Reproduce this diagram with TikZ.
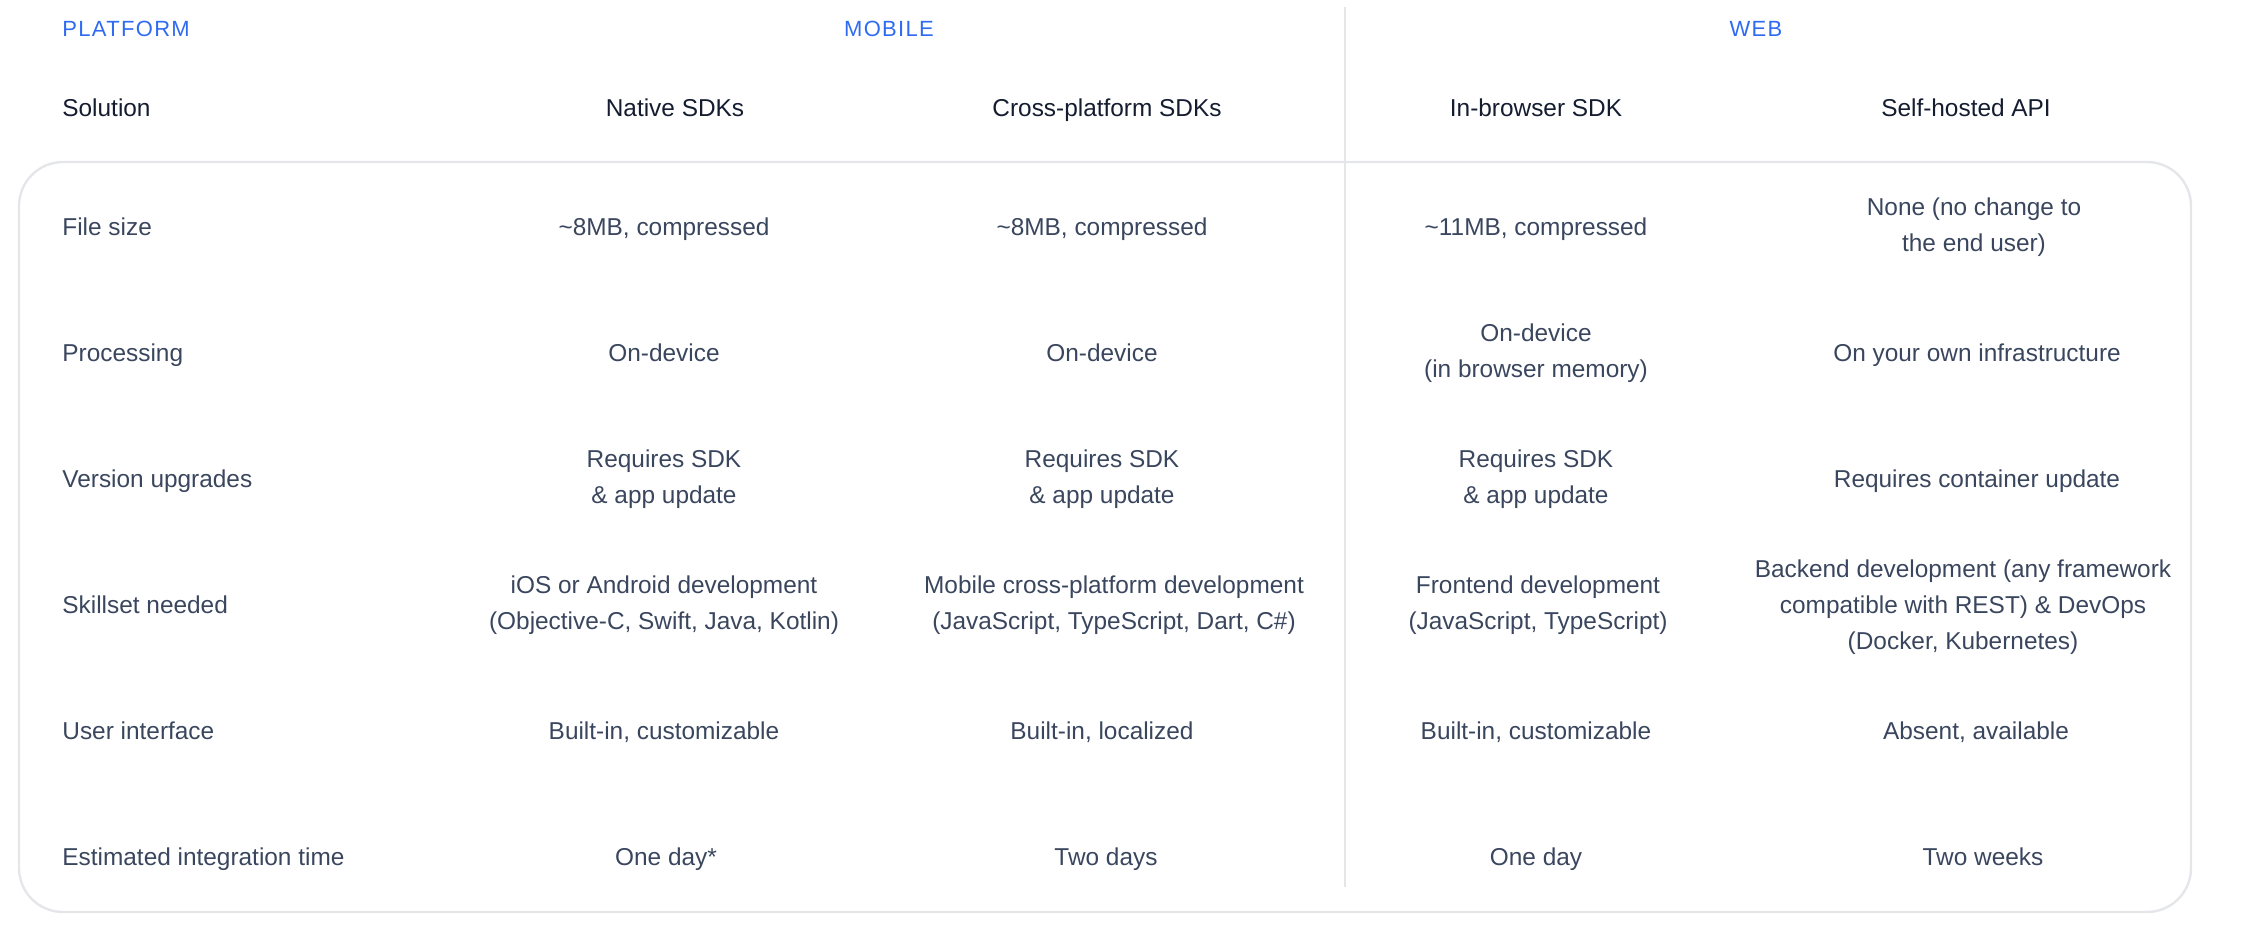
\documentclass[tikz,border=0pt]{standalone}
\usepackage{fontspec}
\setmainfont{Liberation Sans}
\newfontfamily\capsfont[LetterSpace=6]{Liberation Sans}
\definecolor{blu}{HTML}{2F6BF2}
\definecolor{headink}{HTML}{141C30}
\definecolor{cellink}{HTML}{3A465E}
\definecolor{rulegray}{HTML}{E4E6EA}
\tikzset{
  grp/.style={font=\capsfont\fontsize{11}{13}\selectfont, text=blu, inner sep=0pt, text height=7.9pt, text depth=0pt},
  oneline/.style={text height=8.7pt, text depth=0pt},
  hdr/.style={font=\fontsize{12.2}{18}\selectfont, text=headink, inner sep=0pt, align=center, oneline},
  lbl/.style={font=\fontsize{12.2}{18}\selectfont, text=cellink, inner sep=0pt, anchor=west, oneline},
  cell/.style={font=\fontsize{12.2}{18}\selectfont, text=cellink, inner sep=0pt, align=center},
  frame/.style={draw=rulegray, line width=1.2pt, rounded corners=22pt},
  divider/.style={draw=rulegray, line width=1.2pt}
}
\begin{document}
\begin{tikzpicture}[x=0.5pt,y=-0.5pt]
\useasboundingbox (0,0) rectangle (2266,948);
% frame
\draw[frame] (19,162) rectangle (2191,912);
% divider
\coordinate (dtop) at (1345,7);
\coordinate (dbot) at (1345,887);
\draw[divider] (dtop) -- (dbot);
% group headers
\node[grp, anchor=west] (gplat) at (62,29) {PLATFORM};
\node[grp] (gmob) at (889,29) {MOBILE};
\node[grp] (gweb) at (1756,29) {WEB};
% column headers
\node[hdr, anchor=west] (hsol) at (62,108) {Solution};
\node[hdr] (hnat) at (675,108) {Native SDKs};
\node[hdr] (hcro) at (1107,108) {Cross-platform SDKs};
\node[hdr] (hbro) at (1536,108) {In-browser SDK};
\node[hdr] (hsel) at (1966,108) {Self-hosted API};
% row labels
\node[lbl] (l1) at (62,227) {File size};
\node[lbl] (l2) at (62,353) {Processing};
\node[lbl] (l3) at (62,479) {Version upgrades};
\node[lbl] (l4) at (62,605) {Skillset needed};
\node[lbl] (l5) at (62,731) {User interface};
\node[lbl] (l6) at (62,857) {Estimated integration time};
% native
\node[cell, oneline] (n1) at (664,227) {\textasciitilde8MB, compressed};
\node[cell, oneline] (n2) at (664,353) {On-device};
\node[cell] (n3) at (664,479) {Requires SDK\\\& app update};
\node[cell] (n4) at (664,605) {iOS or Android development\\(Objective-C, Swift, Java, Kotlin)};
\node[cell, oneline] (n5) at (664,731) {Built-in, customizable};
\node[cell, oneline] (n6) at (666,857) {One day*};
% cross
\node[cell, oneline] (c1) at (1102,227) {\textasciitilde8MB, compressed};
\node[cell, oneline] (c2) at (1102,353) {On-device};
\node[cell] (c3) at (1102,479) {Requires SDK\\\& app update};
\node[cell] (c4) at (1114,605) {Mobile cross-platform development\\(JavaScript, TypeScript, Dart, C\#)};
\node[cell, oneline] (c5) at (1102,731) {Built-in, localized};
\node[cell, oneline] (c6) at (1106,857) {Two days};
% browser
\node[cell, oneline] (b1) at (1536,227) {\textasciitilde11MB, compressed};
\node[cell] (b2) at (1536,353) {On-device\\(in browser memory)};
\node[cell] (b3) at (1536,479) {Requires SDK\\\& app update};
\node[cell] (b4) at (1538,605) {Frontend development\\(JavaScript, TypeScript)};
\node[cell, oneline] (b5) at (1536,731) {Built-in, customizable};
\node[cell, oneline] (b6) at (1536,857) {One day};
% self-hosted
\node[cell] (s1) at (1974,227) {None (no change to\\the end user)};
\node[cell, oneline] (s2) at (1977,353) {On your own infrastructure};
\node[cell, oneline] (s3) at (1977,479) {Requires container update};
\node[cell] (s4) at (1963,607) {Backend development (any framework\\compatible with REST) \& DevOps\\(Docker, Kubernetes)};
\node[cell, oneline] (s5) at (1976,731) {Absent, available};
\node[cell, oneline] (s6) at (1983,857) {Two weeks};
\end{tikzpicture}
\end{document}
